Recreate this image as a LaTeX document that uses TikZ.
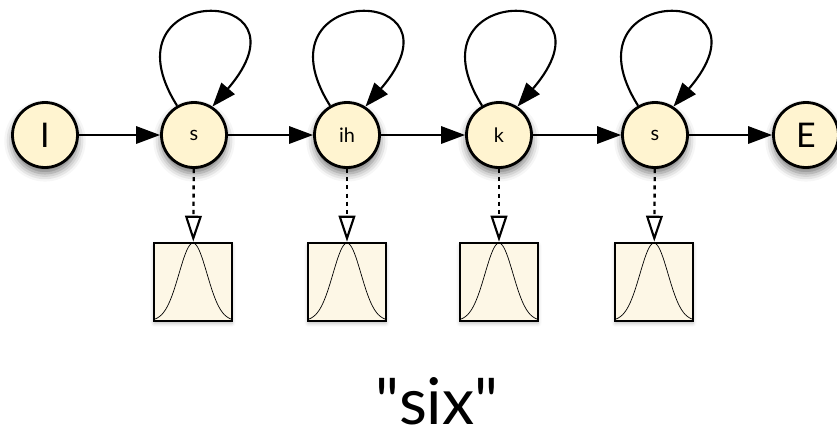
\documentclass[tikz,border=0pt]{standalone}
\usepackage{fontspec}
\setmainfont{Lato}[Ligatures=TeXOff]
\usetikzlibrary{arrows.meta,shadows.blur}
\definecolor{statefill}{RGB}{255,244,208}
\definecolor{boxfill}{RGB}{253,247,230}
\tikzset{
	state/.style={circle,draw,line width=2.4pt,fill=statefill,minimum size=1.95cm,inner sep=0pt,
		font=\fontsize{17}{17}\selectfont,
		blur shadow={shadow xshift=0pt,shadow yshift=-5pt,shadow blur radius=7pt,shadow opacity=55}},
	endstate/.style={state,font=\fontsize{29}{29}\selectfont},
	trans/.style={line width=1.8pt,-{Triangle[length=0.72cm,width=0.52cm]}},
	emit/.style={line width=2pt,dash pattern=on 3.5pt off 3.5pt,-{Triangle[open,length=0.78cm,width=0.5cm,line width=1.8pt]}},
	gaussbox/.style={draw,line width=2.2pt,fill=boxfill,minimum size=2.34cm,inner sep=0pt,
		blur shadow={shadow xshift=0pt,shadow yshift=-2pt,shadow blur radius=3pt,shadow opacity=25}},
	gaussline/.style={line width=0.6pt}
}
\begin{document}
\begin{tikzpicture}[x=0.03cm,y=-0.03cm]
		\useasboundingbox (0,0) rectangle (837,438);
		% states
		\node[endstate] (I) at (45,135) {I};
		\node[state] (s1) at (194,135) {s};
		\node[state] (ih) at (347,135) {ih};
		\node[state] (k) at (499,135) {k};
		\node[state] (s2) at (655,135) {s};
		\node[endstate] (E) at (806,135) {E};
		% output densities
		\node[gaussbox] (b1) at (193,282) {};
		\node[gaussbox] (b2) at (347,282) {};
		\node[gaussbox] (b3) at (499,282) {};
		\node[gaussbox] (b4) at (654,282) {};
		\foreach \cx in {193,347,499,654}
			\draw[gaussline] plot[domain=-39:39,samples=41,smooth] ({\cx+\x},{321-78*exp(-((\x)*(\x))/392)});
		% transitions
		\draw[trans] (I) -- (s1);
		\draw[trans] (s1) -- (ih);
		\draw[trans] (ih) -- (k);
		\draw[trans] (k) -- (s2);
		\draw[trans] (s2) -- (E);
		\draw[trans] (s1.120) .. controls +(-78,-124) and +(107,-124) .. (s1.57);
		\draw[trans] (ih.120) .. controls +(-78,-124) and +(107,-124) .. (ih.57);
		\draw[trans] (k.120) .. controls +(-78,-124) and +(107,-124) .. (k.57);
		\draw[trans] (s2.120) .. controls +(-78,-124) and +(107,-124) .. (s2.57);
		\draw[emit] (s1) -- (b1);
		\draw[emit] (ih) -- (b2);
		\draw[emit] (k) -- (b3);
		\draw[emit] (s2) -- (b4);
		% word
		\node[font=\fontsize{55}{55}\selectfont,anchor=base,inner sep=0pt] (word) at (437,424) {"six"};
	\end{tikzpicture}
\end{document}
